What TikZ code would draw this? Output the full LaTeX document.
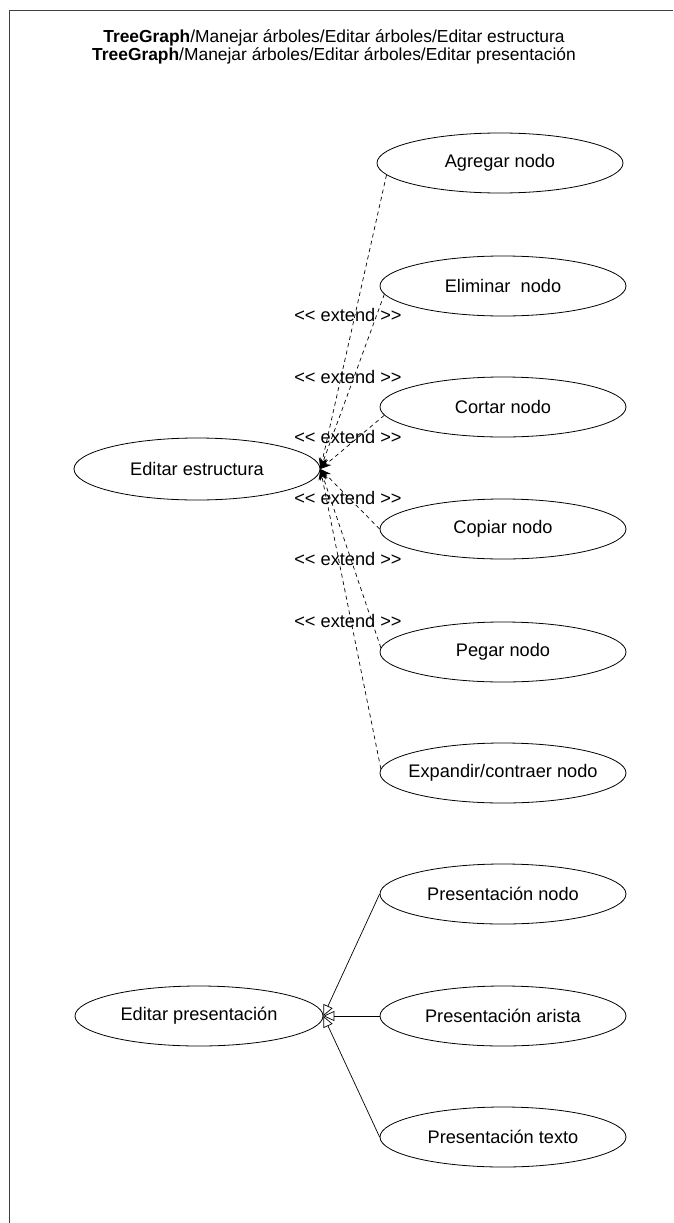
\documentclass[tikz,border=0pt]{standalone}
\usepackage{fontspec}
\setmainfont{Liberation Sans}
\usetikzlibrary{shapes.geometric,arrows.meta}
\begin{document}
\begin{tikzpicture}[x=1pt,y=-1pt,
  font=\fontsize{18.2}{21}\selectfont,
  usecase/.style={draw,ellipse,line width=0.8pt,inner sep=0pt,minimum width=246pt,minimum height=60pt},
  extendedge/.style={line width=0.7pt,dash pattern=on 4pt off 3.5pt,-{Stealth[length=11pt,width=8pt]}},
  genedge/.style={line width=0.7pt,-{Triangle[open,length=11pt,width=10pt]}},
  stereo/.style={inner sep=0pt}]
\useasboundingbox (0,0) rectangle (673,1223);
% frame
\draw[line width=0.8pt,black!75] (9,1223) -- (9,10) -- (673,10);
% title
\node[align=center,inner sep=0pt,font=\fontsize{17.4}{18}\selectfont] (title) at (334,47) {\textbf{TreeGraph}/Manejar árboles/Editar árboles/Editar estructura\\\textbf{TreeGraph}/Manejar árboles/Editar árboles/Editar presentación};
% structure use cases
\node[usecase,minimum height=62pt] (es) at (197,469) {Editar estructura};
\node[usecase] (agregar)  at (500,163) {Agregar nodo};
\node[usecase] (eliminar) at (503,286) {Eliminar\ \ nodo};
\node[usecase] (cortar)   at (503,407) {Cortar nodo};
\node[usecase] (copiar)   at (503,529) {Copiar nodo};
\node[usecase] (pegar)    at (503,652) {Pegar nodo};
\node[usecase,inner xsep=-12pt] (expandir) at (503,773) {Expandir/contraer nodo};
% extend relations
\draw[extendedge] (agregar.186) -- (es.east);
\draw[extendedge] (eliminar.184) -- (es.east);
\draw[extendedge] (cortar.184) -- (es.east);
\draw[extendedge] (copiar.west) -- (es.east);
\draw[extendedge] (pegar.178) -- (es.east);
\draw[extendedge] (expandir.178) -- (es.east);
\node[stereo] (x1) at (348,315) {{<}{<} extend {>}{>}};
\node[stereo] (x2) at (348,377) {{<}{<} extend {>}{>}};
\node[stereo] (x3) at (348,437) {{<}{<} extend {>}{>}};
\node[stereo] (x4) at (348,498) {{<}{<} extend {>}{>}};
\node[stereo] (x5) at (348,559) {{<}{<} extend {>}{>}};
\node[stereo] (x6) at (348,621) {{<}{<} extend {>}{>}};
% presentation use cases
\node[usecase,minimum width=248pt] (ep) at (199,1016) {Editar presentación};
\node[usecase] (pnodo)   at (503,894)  {Presentación nodo};
\node[usecase] (parista) at (503,1016) {Presentación arista};
\node[usecase] (ptexto)  at (503,1137) {Presentación texto};
\foreach \n in {pnodo,parista,ptexto}
  \draw[genedge] (\n.west) -- (ep.east);
\end{tikzpicture}
\end{document}
